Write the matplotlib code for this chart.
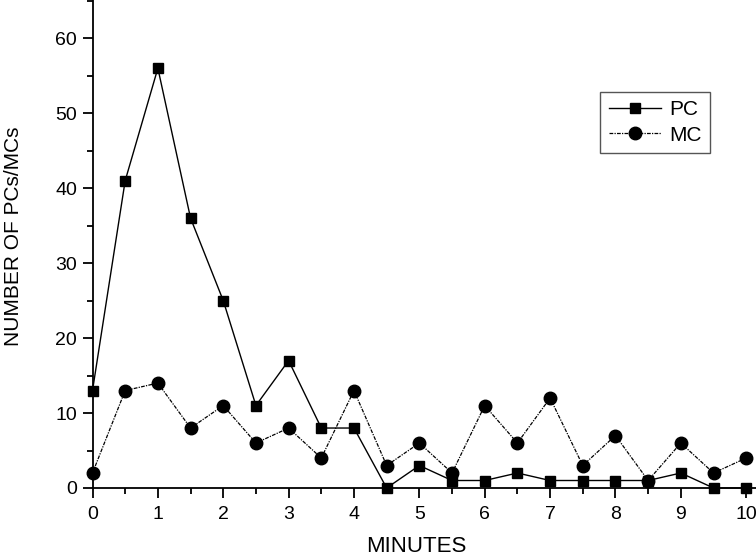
import matplotlib
matplotlib.use("Agg")
import matplotlib.pyplot as plt
from matplotlib.ticker import MultipleLocator

minutes = [0, 0.5, 1, 1.5, 2, 2.5, 3, 3.5, 4, 4.5, 5, 5.5, 6, 6.5, 7, 7.5, 8, 8.5, 9, 9.5, 10]
pc = [13, 41, 56, 36, 25, 11, 17, 8, 8, 0, 3, 1, 1, 2, 1, 1, 1, 1, 2, 0, 0]
mc = [2, 13, 14, 8, 11, 6, 8, 4, 13, 3, 6, 2, 11, 6, 12, 3, 7, 1, 6, 2, 4]

plt.rcParams['font.family'] = ['Liberation Sans', 'DejaVu Sans']

fig = plt.figure(figsize=(7.56, 5.56), dpi=100)
ax = fig.add_axes([92.5/756, 1-488/556, 1-92.5/756, 488/556])

ax.plot(minutes, pc, color='black', linewidth=1.0, marker='s', markersize=7.8,
        label='PC', clip_on=False, zorder=3)
ax.plot(minutes, mc, color='black', linewidth=0.9, linestyle=(0, (3, 1, 1, 1)),
        marker='o', markersize=9.0, label='MC', clip_on=False, zorder=3)

ax.set_xlim(0, 10.15)
ax.set_ylim(0, 65.1)
ax.xaxis.set_major_locator(MultipleLocator(1))
ax.xaxis.set_minor_locator(MultipleLocator(0.5))
ax.yaxis.set_major_locator(MultipleLocator(10))
ax.yaxis.set_minor_locator(MultipleLocator(5))

for s in ['top', 'right']:
    ax.spines[s].set_visible(False)
for s in ['left', 'bottom']:
    ax.spines[s].set_linewidth(1.3)

ax.tick_params(which='major', direction='out', length=7, width=1.3, labelsize=14, pad=4)
ax.tick_params(axis='x', which='major', pad=6)
ax.tick_params(which='minor', direction='out', length=4, width=1.3)

ax.set_xlabel('MINUTES', fontsize=16)
ax.set_ylabel('NUMBER OF PCs/MCs', fontsize=15)
ax.xaxis.set_label_coords((416.7-92.5)/663.5, -(546-488)/488, transform=ax.transAxes)
ax.yaxis.set_label_coords(-(92.5-19)/663.5, 1-236/488, transform=ax.transAxes)
ax.xaxis.label.set_va('center')
ax.yaxis.label.set_va('baseline')

leg = ax.legend(loc='upper right', bbox_to_anchor=((710-92.5)/663.5, 1-92/488),
                borderaxespad=0, fontsize=15, fancybox=False, framealpha=1,
                edgecolor='#555555', handlelength=2.5, handletextpad=0.4,
                labelspacing=0.3, borderpad=0.4)
leg.get_frame().set_linewidth(1.0)

fig.savefig('out.png', dpi=100)
